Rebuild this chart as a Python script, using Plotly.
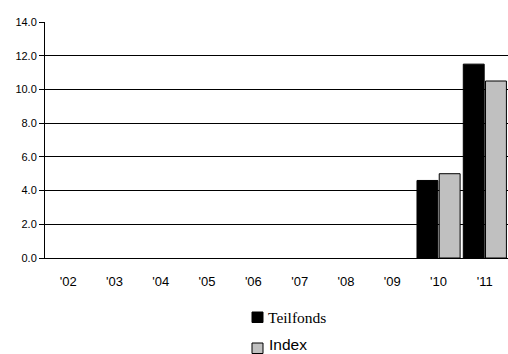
import plotly.graph_objects as go

# Annual performance in percent
years = ["'02", "'03", "'04", "'05", "'06", "'07", "'08", "'09", "'10", "'11"]
teilfonds = [None, None, None, None, None, None, None, None, 4.6, 11.5]
index_vals = [None, None, None, None, None, None, None, None, 5.0, 10.5]
y_ticks = [0, 2, 4, 6, 8, 10, 12, 14]
series_names = ["Teilfonds", "Index"]
series_colors = ["#000000", "#c0c0c0"]

W, H = 508, 354
ML, MR, MT, MB = 45, 0, 22, 96
PW, PH = W - ML - MR, H - MT - MB


def px_x(px):
    return (px - ML) / PW


def px_y(py):
    return (H - MB - py) / PH


fig = go.Figure()
for name, vals, col in zip(series_names, [teilfonds, index_vals], series_colors):
    fig.add_trace(go.Bar(
        x=years, y=vals, name=name,
        marker=dict(color=col, line=dict(color="#000000", width=1)),
        showlegend=False,
    ))

# Legend below the chart: a square swatch followed by the series label
legend_fonts = [
    dict(family="Liberation Serif, Times New Roman, serif", size=15.5, color="#000000"),
    dict(family="Liberation Sans, Arial, sans-serif", size=15.5, color="#000000"),
]
legend_rows = [(312, 317, 267), (343, 344, 268)]
for name, col, fnt, (sq_top, text_mid, text_x) in zip(series_names, series_colors, legend_fonts, legend_rows):
    fig.add_shape(
        type="rect", xref="paper", yref="paper",
        x0=px_x(252), x1=px_x(263), y0=px_y(sq_top), y1=px_y(sq_top + 10.5),
        fillcolor=col, line=dict(color="#000000", width=1),
    )
    fig.add_annotation(
        text=name, xref="paper", yref="paper",
        x=px_x(text_x), y=px_y(text_mid), xanchor="left", yanchor="middle",
        showarrow=False, font=fnt, borderpad=0,
    )

fig.update_layout(
    width=W, height=H,
    margin=dict(l=ML, r=MR, t=MT, b=MB),
    paper_bgcolor="white", plot_bgcolor="white",
    barmode="group", bargap=0.04, bargroupgap=0.06,
    font=dict(family="Liberation Sans, Arial, sans-serif", size=11, color="#000000"),
    showlegend=False,
)
fig.update_xaxes(
    type="category", showgrid=False,
    showline=True, linecolor="#000000", linewidth=1,
    ticks="outside", ticklen=11, tickcolor="rgba(0,0,0,0)",
    tickfont=dict(size=13),
)
fig.update_yaxes(
    range=[0, 14], tickvals=y_ticks, tickformat=".1f",
    showgrid=True, gridcolor="#000000", gridwidth=1,
    showline=True, linecolor="#000000", linewidth=1,
    ticks="outside", ticklen=5, tickcolor="#000000",
    tickfont=dict(size=11), zeroline=False,
)

fig.write_html("out.html")
